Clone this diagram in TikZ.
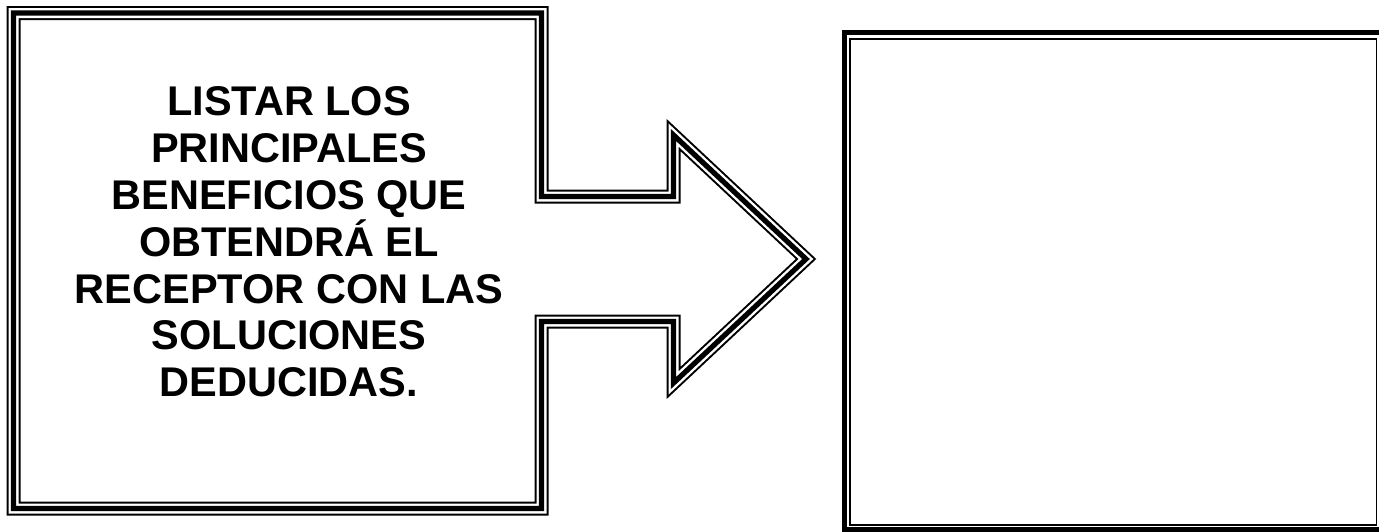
\documentclass[tikz,border=0pt]{standalone}
\usepackage{fontspec}
\setmainfont{Liberation Sans}
\begin{document}
\begin{tikzpicture}[x=0.5pt,y=-0.5pt,
  triple/.style={draw=black,line width=7pt,line join=miter,
    postaction={draw=white,line width=5pt,line join=miter},
    postaction={draw=black,line width=2.6pt,line join=miter}},
  thickframe/.style={draw=black,line width=2.6pt},
  thinframe/.style={draw=black,line width=0.8pt},
  label/.style={align=center,inner sep=0pt,font=\bfseries\fontsize{20.75pt}{23.4pt}\selectfont}]
\useasboundingbox (0,0) rectangle (1379,531);
\clip (0,0) rectangle (1379,531);
\fill[white] (0,0) rectangle (1379,531);
% left box joined with the arrow
\path[triple] (13.5,13) -- (541.5,13) -- (541.5,196.5) -- (673.5,196.5) -- (673.5,135)
  -- (806,259) -- (673.5,383) -- (673.5,321.5) -- (541.5,321.5) -- (541.5,508.5)
  -- (13.5,508.5) -- cycle;
\node[label] (txt) at (289,242) {LISTAR LOS\\PRINCIPALES\\BENEFICIOS QUE\\OBTENDRÁ EL\\RECEPTOR CON LAS\\SOLUCIONES\\DEDUCIDAS.};
% right box
\draw[thickframe] (844.5,32.5) rectangle (1382,529.5);
\draw[thinframe] (850,39) rectangle (1376.5,525);
\end{tikzpicture}
\end{document}
